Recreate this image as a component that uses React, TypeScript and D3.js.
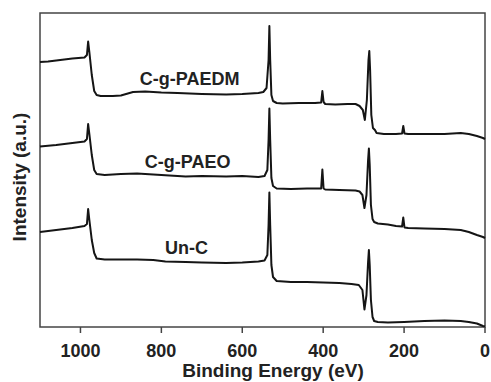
import React from "react";
import * as d3 from "d3";

// Binding energies (eV) sampled for each spectrum
const energyPAEDM = [1100,1080,1050,1020,990,984,981,978,972,966,960,950,920,900,870,840,800,760,700,640,600,560,548,540,535,533,531,528,524,515,500,460,420,405,402,399,395,370,340,320,310,302,297,292,288,286,284,281,277,272,268,250,220,205,202,199,190,150,100,60,40,20,5,0];
const intensityPAEDM = [265,265.5,267,268.5,269.5,272,285.5,275,252,236,232,231,231,231.5,235,235.5,234.5,234,233,232.5,233,234,235,239,267,301,267,232,226,224,223.5,224,224,224.5,236,225,223,222.5,223,223,221,217,207,227,267,276,257,212,199,197,194,193,193,193.5,201,193.5,193,193,193,194,193,191,189,188];

const energyPAEO = [1100,1060,1020,990,984,981,978,972,966,960,940,900,860,800,740,700,640,600,560,545,538,535,533,531,528,524,515,480,440,405,402,399,395,360,320,310,303,298,293,289,287,285,282,278,274,265,240,220,205,202,199,190,150,100,60,40,20,5,0];
const intensityPAEO = [180.5,182,184,185.5,188,203,193,172,157,153,152,153,153.5,152,150.5,151,150.5,151,150,151,157,187,218.5,187,149,141,138.5,138,138.5,138.5,157.5,138.5,137.5,137,136.5,135.5,132,119,132,167,178.5,162,122,108,105,103.5,102.5,101,100.5,109.5,99.5,99,98.5,98,97,95,92,90,89];

const energyUnC = [1100,1060,1020,990,984,981,978,972,966,960,940,900,860,820,790,740,700,640,600,560,545,538,535,533,531,528,524,515,480,440,400,360,330,312,303,298,293,289,287,285,282,278,274,265,240,200,150,100,60,40,20,5,0];
const intensityUnC = [95,97,99,101,103,118,107,87,74,68.5,67.5,67.5,67.5,67,65.5,65,64.5,64,64.5,65.5,66.5,72,102,134.5,102,62,50,46,45,45,44.5,44,43,42,37,17.5,32,65,77,62,27,10,6,5,4.5,5,6,6.5,6,5,3.5,1,0.5];

const seriesNames = ["C-g-PAEDM", "C-g-PAEO", "Un-C"];
const labelEnergy = [730, 735, 738];
const labelIntensity = [242, 159, 73];

const xTicks = [1000, 800, 600, 400, 200, 0];
const xDomain = [1100, 0];
const yDomain = [0, 314];

const W = 491, H = 382;
const M = { left: 40, right: 6, top: 13, bottom: 55 };

export default function App() {
  const x = d3.scaleLinear().domain(xDomain).range([M.left, W - M.right]);
  const y = d3.scaleLinear().domain(yDomain).range([H - M.bottom, M.top]);
  const line = d3.line<[number, number]>().x(d => x(d[0])).y(d => y(d[1]));
  const series = [
    d3.zip(energyPAEDM, intensityPAEDM),
    d3.zip(energyPAEO, intensityPAEO),
    d3.zip(energyUnC, intensityUnC),
  ] as [number, number][][];
  const font = "'Liberation Sans', Arial, sans-serif";
  const x0 = M.left, x1 = W - M.right, y0 = H - M.bottom, y1 = M.top;
  return (
    <svg width={W} height={H} style={{ position: "absolute", left: 0, top: 0, background: "#fff" }}>
      <rect x={x0} y={y1} width={x1 - x0} height={y0 - y1} fill="none" stroke="#444" strokeWidth={1.5} />
      {series.map((s, i) => (
        <path key={i} d={line(s) || ""} fill="none" stroke="#151515" strokeWidth={2} strokeLinejoin="round" />
      ))}
      {seriesNames.map((n, i) => (
        <text key={n} x={x(labelEnergy[i])} y={y(labelIntensity[i])} textAnchor="middle"
          fontFamily={font} fontWeight="bold" fontSize={18} fill="#222">{n}</text>
      ))}
      {xTicks.map(t => (
        <g key={t}>
          <line x1={x(t)} x2={x(t)} y1={y0} y2={y0 + 6} stroke="#444" strokeWidth={1.5} />
          <text x={x(t)} y={357} textAnchor="middle" fontFamily={font} fontWeight="bold" fontSize={18} fill="#222">{t}</text>
        </g>
      ))}
      <text x={273} y={377} textAnchor="middle" fontFamily={font} fontWeight="bold" fontSize={19} fill="#222">Binding Energy (eV)</text>
      <text transform={`translate(26,${177}) rotate(-90)`} textAnchor="middle" fontFamily={font} fontWeight="bold" fontSize={19} fill="#222">Intensity (a.u.)</text>
    </svg>
  );
}
